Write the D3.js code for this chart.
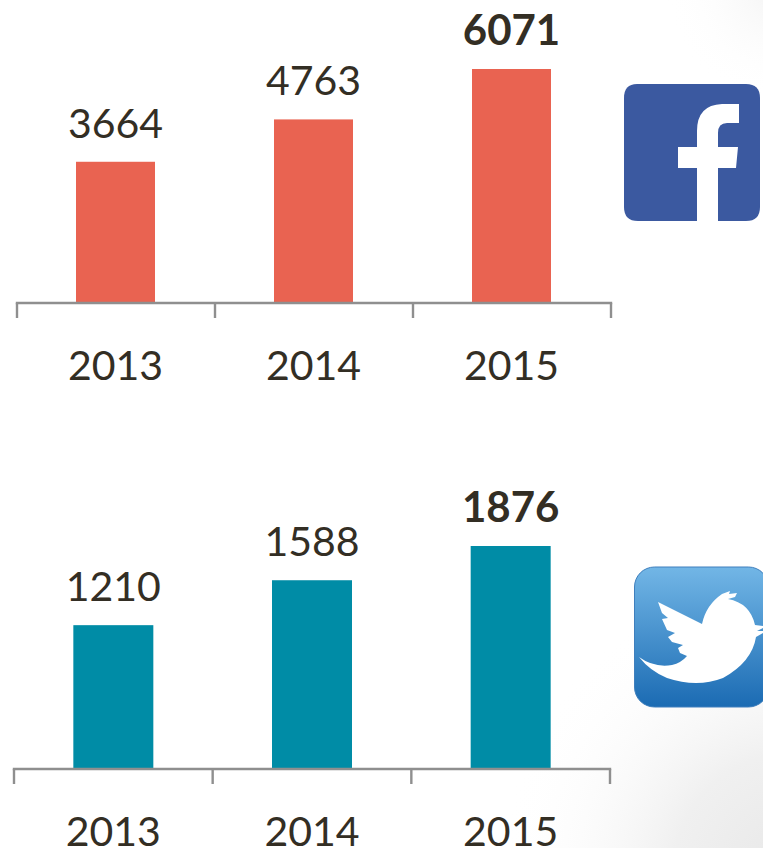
<!DOCTYPE html>
<html><head><meta charset="utf-8">
<style>html,body{margin:0;padding:0;background:#fff}svg{display:block}text{font-family:Lato,"Noto Sans",sans-serif;fill:#332e24}</style>
<script src="https://cdn.jsdelivr.net/npm/d3@7"></script></head><body>
<script>
const years = ["2013","2014","2015"];
const facebookValues = [3664,4763,6071];
const twitterValues = [1210,1588,1876];
const W=763,H=848;
const svg=d3.select("body").append("svg").attr("width",W).attr("height",H);
const defs=svg.append("defs");
function radial(id,cx,cy,r,stops){
  const g=defs.append("radialGradient").attr("id",id).attr("gradientUnits","userSpaceOnUse").attr("cx",cx).attr("cy",cy).attr("r",r);
  stops.forEach(s=>g.append("stop").attr("offset",s[0]).attr("stop-color",s[1]).attr("stop-opacity",s[2]));
}
radial("shadeBottom",790,870,290,[[0,"#e8e8e8",1],[0.4,"#f0f0f0",1],[1,"#ffffff",0]]);
radial("shadeTop",775,-10,110,[[0,"#f4f4f4",1],[1,"#ffffff",0]]);
const tw=defs.append("linearGradient").attr("id","tw").attr("x1",0).attr("y1",0).attr("x2",0).attr("y2",1);
tw.append("stop").attr("offset",0).attr("stop-color","#72b6e6");
tw.append("stop").attr("offset",1).attr("stop-color","#1b6bb3");
svg.append("rect").attr("width",W).attr("height",H).attr("fill","url(#shadeBottom)");
svg.append("rect").attr("width",W).attr("height",H).attr("fill","url(#shadeTop)");

function panel(cfg){
  const x=d3.scaleBand().domain(years).range([cfg.x0,cfg.x1]);
  const y=d3.scaleLinear().domain([0,cfg.max]).range([cfg.base,cfg.top]);
  const g=svg.append("g");
  const barW=cfg.barW;
  g.selectAll("rect").data(cfg.values).join("rect")
    .attr("x",(d,i)=>x(years[i])+x.bandwidth()/2-barW/2+cfg.dx)
    .attr("y",d=>y(d)).attr("width",barW).attr("height",d=>cfg.base-y(d)).attr("fill",cfg.color);
  const ag=g.append("g").attr("transform",`translate(0,${cfg.base})`);
  const edges=[cfg.x0,...years.map(k=>x(k)+x.bandwidth())];
  ag.append("line").attr("x1",cfg.x0-1.2).attr("x2",cfg.x1+1.2).attr("y1",0).attr("y2",0).attr("stroke","#8f8f8f").attr("stroke-width",2.4);
  ag.selectAll("line.t").data(edges).join("line").attr("class","t").attr("x1",d=>d).attr("x2",d=>d).attr("y1",0).attr("y2",15).attr("stroke","#8f8f8f").attr("stroke-width",2.4);
  g.selectAll("text.v").data(cfg.values).join("text").attr("class","v")
    .attr("x",(d,i)=>x(years[i])+x.bandwidth()/2+cfg.dx).attr("y",d=>y(d)-24)
    .attr("text-anchor","middle").attr("font-size",(d,i)=>i===2?42:41)
    .attr("font-weight",(d,i)=>i===2?700:400).text(d=>d);
  g.selectAll("text.c").data(years).join("text").attr("class","c")
    .attr("x",d=>x(d)+x.bandwidth()/2+cfg.dx).attr("y",cfg.base+77)
    .attr("text-anchor","middle").attr("font-size",41).text(d=>d);
}
panel({values:facebookValues,x0:17,x1:611,base:303,max:6071,top:69,color:"#e96351",barW:79,dx:-0.5});
panel({values:twitterValues,x0:14,x1:610,base:769,max:1876,top:546,color:"#008ca6",barW:80,dx:0});

// Facebook icon
svg.append("path").attr("fill","#3b59a0")
 .attr("d","M637,84 H746 Q760,84 760,98 V207 Q760,221 746,221 H638 Q624,221 624,207 V98 Q624,84 637,84 Z");
svg.append("path").attr("fill","#fff")
 .attr("d","M697,221 V168 H678 V147 H697 V131 Q697,105 722,104 H739 V123 H727 Q718,123 718,133 V147 H738 L736,168 H718 V221 Z");
// Twitter icon
svg.append("rect").attr("fill","url(#tw)").attr("stroke","#3f7fbd").attr("stroke-width",1)
 .attr("x",634.5).attr("y",567).attr("width",134).attr("height",140).attr("rx",20).attr("ry",20);
svg.append("path").attr("fill","#fff")
 .attr("d","M658,602 L702,624 Q706,605 722,594 L730,591 L729,594 L737,593 L735,597 L728,599 Q750,603 755,625 L763,626 V628 L757,631 L763,631 V633 L756,637 Q752,662 723,678 Q697,688 667,678 Q650,671 639,657 Q654,668 672,665 Q681,663 687,656 L680,653 L678,648 L683,645 L672,642 L668,637 L675,633 L667,630 L662,619 L668,618 L662,613 Z");
</script></body></html>
